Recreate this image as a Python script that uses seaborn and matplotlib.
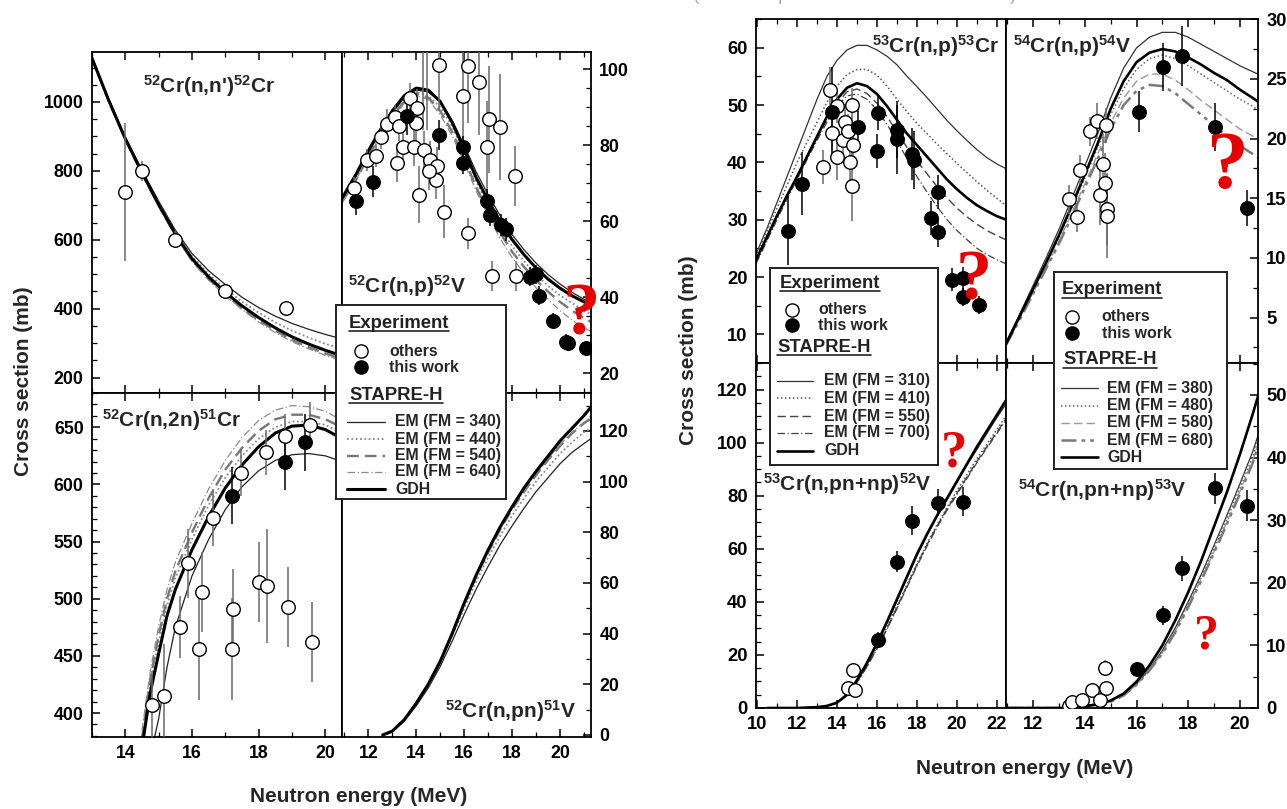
import matplotlib
matplotlib.use("Agg")
import matplotlib.pyplot as plt
import seaborn as sns
from matplotlib.ticker import MultipleLocator

# ------------------------------------------------------------------ data
# ---- left figure: 52Cr ----
nn_x = [13, 13.5, 14, 14.5, 15, 15.5, 16, 16.5, 17, 17.5, 18, 18.5, 19, 19.5, 20, 20.5]
nn_gdh = [1127, 1005, 893, 795, 702, 617, 545, 492, 447, 408, 374, 344, 318, 297, 279, 263]
nn_em1 = [1127, 1008, 898, 802, 712, 628, 560, 510, 470, 433, 403, 378, 357, 340, 325, 312]
nn_em2 = [1127, 1006, 895, 798, 706, 622, 552, 500, 458, 420, 388, 360, 336, 316, 298, 283]
nn_em3 = [1127, 1004, 891, 792, 699, 613, 540, 486, 441, 401, 366, 336, 309, 288, 270, 254]
nn_em4 = [1127, 1003, 890, 790, 697, 610, 537, 483, 437, 397, 361, 330, 304, 283, 264, 249]
nn_oth_x = [14.0, 14.49, 15.5, 17.0, 18.82]
nn_oth_y = [739, 800, 600, 450, 401]
nn_oth_e = [200, 30, 25, 22, 22]

np52_x = [10.9, 11.5, 12, 12.5, 13, 13.5, 14, 14.5, 15, 15.5, 16, 16.5, 17, 17.5, 18, 18.5,
          19, 19.5, 20, 20.5, 21, 21.3]
np52_gdh = [66, 72.5, 78.5, 84, 89, 93, 95, 94.5, 91.5, 86, 79, 71.5, 65.5, 60, 55.2, 51.2,
            47.7, 44.8, 42.4, 40.4, 38.8, 38]
np52_em1 = [66, 72, 78, 83.5, 88.5, 92.5, 94.5, 94, 91.5, 86.5, 80, 73, 67, 61.5, 56.5, 52.5,
            49, 46, 43.5, 41.3, 39.5, 38.5]
np52_em2 = [65.5, 71.5, 77.5, 83, 88, 92, 94, 93, 90, 85, 78, 70.5, 64, 58.5, 53.5, 49.5,
            46, 43, 40.5, 38.5, 36.5, 35.5]
np52_em3 = [65, 71, 77, 82.5, 87.5, 91.5, 93.5, 92.5, 89, 83.5, 76.5, 69, 62.5, 57, 52, 48,
            44.5, 41.5, 38.8, 36.5, 34.5, 33.5]
np52_em4 = [65, 71, 77, 82, 87, 91, 93, 92, 88, 82.5, 75.5, 68, 61.5, 55.5, 50.5, 46.3,
            42.5, 39.5, 36.5, 34, 32, 31]
np52_oth_x = [11.39, 11.94, 12.33, 12.54, 12.78, 13.10, 13.29, 13.20, 13.43, 13.75, 14.03, 13.99,
              13.89, 14.31, 14.13, 14.59, 14.87, 14.83, 14.52, 15.14, 14.94, 16.16, 15.94, 16.63,
              17.02, 17.51, 16.95, 16.16, 18.11, 17.15, 18.16, 14.30, 14.45]
np52_oth_y = [68.7, 76.1, 77.2, 82.1, 85.6, 87.5, 85.1, 75.3, 79.5, 92.4, 89.7, 85.8,
              79.6, 78.8, 66.9, 76.1, 74.4, 70.9, 73.1, 62.5, 101.1, 100.9, 92.8, 96.7,
              86.8, 84.7, 79.5, 56.8, 71.9, 45.6, 45.6, 112, 110]
np52_oth_e = [3, 3, 3, 3, 4, 3, 4, 5, 4, 4, 5, 6, 5, 5, 7.5, 5, 5, 5, 5, 7, 12, 15, 12, 14,
              14, 14, 12, 4, 8, 4, 4, 28, 26]
np52_wrk_x = [11.48, 12.18, 13.6, 14.95, 15.97, 15.94, 16.97, 17.08, 17.56, 17.77, 18.77, 19.02,
              19.13, 19.72, 20.27, 20.35, 21.09]
np52_wrk_y = [65.2, 70.4, 87.7, 82.7, 79.5, 75.3, 65.4, 61.7, 59.0, 57.9, 45.4, 46.1, 40.4,
              33.8, 28.3, 28.0, 26.6]
np52_wrk_e = [3.5, 4, 5, 4, 3, 3, 3, 3, 3, 3, 2.5, 2.5, 2.5, 2, 2, 2, 2]

n2n_x = [14.5, 14.75, 15, 15.25, 15.5, 16, 16.5, 17, 17.5, 18, 18.5, 19, 19.5, 20, 20.5]
n2n_gdh = [370, 418, 452, 485, 508, 543, 572, 597, 617, 633, 645, 651, 652, 648, 640]
n2n_em1 = [330, 362, 395, 440, 475, 520, 552, 578, 598, 612, 621, 626, 627, 625, 620]
n2n_em2 = [372, 425, 462, 494, 518, 552, 582, 606, 625, 640, 650, 655, 655, 652, 645]
n2n_em3 = [378, 430, 468, 500, 524, 558, 588, 613, 632, 647, 657, 661, 661, 657, 650]
n2n_em4 = [385, 437, 476, 508, 532, 566, 596, 621, 641, 656, 665, 669, 668, 664, 656]
n2n_oth_x = [14.79, 15.17, 15.64, 15.89, 16.22, 16.31, 16.64, 17.21, 17.24, 17.46, 18.01, 18.21,
             18.24, 18.79, 18.88, 19.54, 19.59]
n2n_oth_y = [407, 415, 475, 531, 456, 506, 571, 456, 491, 610, 515, 628, 511, 642, 493, 652, 462]
n2n_oth_e = [30, 45, 27, 30, 45, 35, 25, 45, 35, 20, 35, 20, 50, 20, 35, 20, 35]
n2n_wrk_x = [17.21, 18.79, 19.39]
n2n_wrk_y = [590, 620, 637]
n2n_wrk_e = [25, 25, 25]

pn51_x = [12.6, 13, 13.5, 14, 14.5, 15, 15.5, 16, 16.5, 17, 17.5, 18, 18.5, 19, 19.5, 20,
          20.5, 21, 21.3]
pn51_gdh = [0, 1.5, 6, 12.5, 20, 29, 40, 52, 63, 73, 82, 90, 97.5, 104, 110, 116, 121, 126, 129.5]
pn51_em1 = [0, 1.3, 5.5, 11.5, 18.5, 27, 37, 47.5, 57.5, 66.5, 75, 82.5, 89.5, 96, 101.5, 107,
            111.5, 115, 117]
pn51_em2 = [0, 1.4, 5.8, 12, 19.5, 28.5, 39, 50, 60.5, 70, 78.5, 86.5, 93.5, 100, 105.5, 111,
            115.5, 119.5, 121]
pn51_em3 = [0, 1.5, 6, 12.5, 20, 29, 40, 51.5, 62.5, 72, 81, 89, 96, 102.5, 108.5, 114, 119,
            123, 125]
pn51_em4 = [0, 1.5, 6, 12.5, 20, 29, 40, 51.5, 62.5, 72.5, 81.5, 89.5, 96.5, 103, 109, 114.5,
            119.5, 123.5, 126]

# ---- right figure: 53Cr / 54Cr ----
np53_x = [9.95, 10.5, 11, 11.5, 12, 12.5, 13, 13.5, 14, 14.5, 15, 15.5, 16, 16.5, 17, 17.5,
          18, 18.5, 19, 19.5, 20, 20.5, 21, 21.5, 22, 22.45]
np53_gdh = [23, 27, 30.7, 34.2, 37.5, 41, 44.5, 48, 51, 53, 53.8, 53.3, 51.9, 49.8, 47.4, 45,
            43, 41, 39, 37, 35.3, 33.8, 32.5, 31.5, 30.6, 30]
np53_em1 = [24, 28.5, 33, 37.5, 42, 46.5, 51, 55, 57.8, 59.6, 60.4, 60.4, 59.6, 58.5, 57, 55,
            53.2, 51.3, 49.3, 47.3, 45.5, 43.8, 42.2, 40.8, 39.7, 38.9]
np53_em2 = [23.5, 28, 32, 36, 40, 43.5, 47, 50.5, 53.3, 55.3, 56.2, 56.2, 55.2, 53.3, 51, 48.8,
            46.8, 45, 43.2, 41.5, 39.8, 38.2, 36.6, 35.1, 33.7, 32.5]
np53_em3 = [22.5, 26.5, 30.3, 34, 37.3, 40.8, 44.2, 47.5, 50.3, 52.3, 52.8, 52, 50.3, 48, 45.3,
            42.6, 40.2, 38, 35.8, 33.8, 32, 30.5, 29.2, 28.1, 27.2, 26.5]
np53_em4 = [22.3, 26.3, 30, 33.6, 37, 40.5, 43.8, 47, 49.8, 51.6, 51.9, 51, 49.1, 46.6, 43.8,
            40.6, 37.5, 34.8, 32.3, 30, 28.1, 26.5, 25, 23.9, 23, 22.3]
np53_oth_x = [13.32, 13.65, 13.73, 13.98, 13.98, 14.32, 14.40, 14.57, 14.65, 14.73, 14.73, 14.82]
np53_oth_y = [39.2, 52.7, 45.1, 49.8, 41.0, 43.9, 47.1, 45.4, 40.1, 50.0, 35.8, 43.0]
np53_oth_e = [3, 4, 3, 3, 4, 3, 3, 3, 4, 3, 6, 3]
np53_wrk_x = [11.57, 12.23, 13.73, 15.07, 16.03, 16.00, 17.00, 17.00, 17.77, 17.83, 19.03,
              18.68, 19.03, 19.73, 20.28, 20.28, 21.12]
np53_wrk_y = [28.1, 36.3, 48.7, 46.2, 48.6, 42.0, 45.7, 44.0, 41.5, 40.4, 34.8, 30.3, 27.8,
              19.5, 19.8, 16.5, 15.1]
np53_wrk_e = [6, 5.5, 8, 4, 3, 3, 5, 6, 4.5, 5, 3, 3, 2.5, 2, 2, 1.5, 1.5]

np54_x = [10.95, 11.5, 12, 12.5, 13, 13.5, 14, 14.5, 15, 15.5, 16, 16.5, 17, 17.5, 18, 18.5,
          19, 19.5, 20, 20.5, 20.7]
np54_gdh = [2.8, 5.2, 7.4, 9.6, 11.9, 14.4, 17.0, 19.6, 22.5, 24.8, 26.4, 27.2, 27.5, 27.3,
            26.8, 26.2, 25.5, 24.9, 24.1, 23.4, 23.1]
np54_em1 = [2.9, 5.4, 7.7, 10.0, 12.4, 15.0, 17.7, 20.4, 23.4, 25.9, 27.6, 28.5, 28.9, 28.9,
            28.5, 27.9, 27.3, 26.7, 26.1, 25.6, 25.4]
np54_em2 = [2.8, 5.1, 7.3, 9.5, 11.7, 14.2, 16.7, 19.3, 22.0, 24.2, 25.8, 26.7, 27.0, 26.7,
            26.1, 25.4, 24.7, 24.0, 23.3, 22.7, 22.4]
np54_em3 = [2.7, 5.0, 7.1, 9.2, 11.4, 13.8, 16.2, 18.7, 21.3, 23.4, 24.8, 25.4, 25.4, 24.9,
            24.1, 23.2, 22.4, 21.6, 20.8, 20.2, 19.9]
np54_em4 = [2.7, 4.9, 7.0, 9.1, 11.2, 13.5, 15.9, 18.3, 20.8, 22.8, 24.0, 24.5, 24.4, 23.8,
            22.9, 22.0, 21.1, 20.2, 19.4, 18.7, 18.4]
np54_oth_x = [13.37, 13.69, 13.82, 14.21, 14.49, 14.57, 14.72, 14.79, 14.83, 14.86, 14.86]
np54_oth_y = [14.9, 13.4, 17.4, 20.6, 21.5, 15.3, 17.9, 16.3, 21.1, 14.1, 13.5]
np54_oth_e = [1.2, 1.2, 1.2, 1.2, 1.5, 2.5, 2.5, 2.5, 1.5, 3, 3.5]
np54_wrk_x = [16.08, 17.01, 17.76, 19.05, 20.28]
np54_wrk_y = [22.25, 26.0, 26.9, 21.0, 14.2]
np54_wrk_e = [1.7, 2.0, 2.5, 2.0, 1.5]

pn52_x = [10.5, 11, 12, 13, 13.5, 14, 14.5, 15, 15.5, 16, 16.5, 17, 17.5, 18, 18.5, 19, 19.5,
          20, 20.5, 21, 21.5, 22, 22.45]
pn52_gdh = [0, 0, 0, 0.3, 0.8, 2, 5, 10.5, 17, 24.5, 32.5, 41, 49.5, 58, 65.5, 72.5, 79, 85.5,
            92, 98.5, 104.5, 110.5, 116]
pn52_em1 = [0, 0, 0, 0.3, 0.8, 2, 5, 10.3, 16.5, 24, 32, 40.5, 49, 57.5, 65, 72, 78.5, 85,
            91.5, 97.5, 103.5, 109.5, 114.5]
pn52_em2 = [0, 0, 0, 0.3, 0.8, 1.9, 4.8, 10, 16, 23, 30.5, 38.5, 46.5, 54.5, 62, 69, 75.5, 82,
            88, 94, 99.5, 105, 110]
pn52_em3 = [0, 0, 0, 0.3, 0.8, 1.9, 4.7, 9.8, 15.7, 22.5, 30, 38, 46, 54, 61.5, 68.5, 75, 81,
            87, 93, 98.5, 104, 109]
pn52_em4 = [0, 0, 0, 0.3, 0.8, 1.9, 4.7, 9.7, 15.5, 22.3, 29.7, 37.5, 45.5, 53.5, 61, 68, 74.5,
            80.5, 86.5, 92.5, 98, 103.5, 108.5]
pn52_oth_x = [14.57, 14.82, 14.90]
pn52_oth_y = [7.7, 14.2, 6.7]
pn52_oth_e = [1.5, 1.5, 1.5]
pn52_wrk_x = [16.03, 17.02, 17.77, 19.03, 20.28]
pn52_wrk_y = [25.8, 55.1, 70.6, 77.4, 77.7]
pn52_wrk_e = [3, 4, 5.5, 5, 5.5]

pn53_x = [11, 12, 13, 13.5, 14, 14.5, 15, 15.5, 16, 16.5, 17, 17.5, 18, 18.5, 19, 19.5, 20,
          20.5, 20.7]
pn53_gdh = [0, 0, 0, 0.1, 0.3, 0.6, 1.2, 2.3, 4.2, 6.8, 10, 14, 18.5, 23.5, 29, 34.5, 40.5,
            47, 49.8]
pn53_em1 = [0, 0, 0, 0.1, 0.3, 0.6, 1.1, 2.1, 3.8, 6.2, 9.2, 12.8, 17, 21.3, 26, 30.8, 35.8,
            41, 43.5]
pn53_em2 = [0, 0, 0, 0.1, 0.3, 0.6, 1.1, 2.1, 3.8, 6.1, 9.0, 12.5, 16.6, 20.8, 25.4, 30.2,
            35.1, 40.2, 42.8]
pn53_em3 = [0, 0, 0, 0.1, 0.3, 0.5, 1.0, 2.0, 3.7, 6.0, 8.8, 12.3, 16.3, 20.5, 25, 29.7, 34.6,
            39.6, 42.2]
pn53_em4 = [0, 0, 0, 0.1, 0.3, 0.5, 1.0, 2.0, 3.7, 6.0, 8.7, 12.1, 16.1, 20.3, 24.8, 29.4,
            34.2, 39.2, 41.8]
pn53_oth_x = [13.37, 13.50, 13.89, 14.27, 14.60, 14.83, 14.79]
pn53_oth_y = [0.3, 1.0, 1.3, 2.9, 1.3, 3.2, 6.4]
pn53_oth_e = [0.4, 0.4, 0.5, 0.6, 0.6, 0.8, 1.3]
pn53_wrk_x = [16.02, 17.01, 17.76, 19.05, 20.28]
pn53_wrk_y = [6.3, 14.8, 22.3, 35.1, 32.3]
pn53_wrk_e = [1.0, 1.5, 2.0, 2.5, 2.5]

# legend texts
fm_left = ["EM (FM = 340)", "EM (FM = 440)", "EM (FM = 540)", "EM (FM = 640)", "GDH"]
fm_r1 = ["EM (FM = 310)", "EM (FM = 410)", "EM (FM = 550)", "EM (FM = 700)", "GDH"]
fm_r2 = ["EM (FM = 380)", "EM (FM = 480)", "EM (FM = 580)", "EM (FM = 680)", "GDH"]

# ------------------------------------------------------------------ style
sns.set_theme(style="ticks")
plt.rcParams["font.family"] = ["Liberation Sans", "DejaVu Sans"]
plt.rcParams["font.weight"] = "bold"
plt.rcParams["mathtext.fontset"] = "custom"
plt.rcParams["mathtext.rm"] = "Liberation Sans:bold"
plt.rcParams["mathtext.bf"] = "Liberation Sans:bold"
plt.rcParams["mathtext.it"] = "Liberation Sans:bold"
plt.rcParams["mathtext.default"] = "bf"
plt.rcParams["axes.linewidth"] = 1.3

W, H = 1287, 809
fig = plt.figure(figsize=(W / 100, H / 100), dpi=100)
fig.patch.set_facecolor("white")


def rect(x0, y0, x1, y1):
    return [x0 / W, 1 - y1 / H, (x1 - x0) / W, (y1 - y0) / H]


def ftext(x, y, s, **kw):
    return fig.text(x / W, 1 - y / H, s, **kw)


ST_L = [dict(color="#222222", lw=0.9, ls="-"),
        dict(color="#8a8a8a", lw=1.3, ls=(0, (1, 1.4))),
        dict(color="#777777", lw=1.7, ls=(0, (5, 2.5))),
        dict(color="#8a8a8a", lw=0.9, ls=(0, (6, 2, 1, 2))),
        dict(color="black", lw=2.2, ls="-")]
ST_R1 = [dict(color="#333333", lw=0.9, ls="-"),
         dict(color="#555555", lw=1.1, ls=(0, (1, 1.6))),
         dict(color="#444444", lw=1.0, ls=(0, (6, 3))),
         dict(color="#444444", lw=0.9, ls=(0, (6, 2, 1, 2))),
         dict(color="black", lw=1.9, ls="-")]
ST_R2 = [dict(color="#333333", lw=0.9, ls="-"),
         dict(color="#666666", lw=1.1, ls=(0, (1, 1.6))),
         dict(color="#9a9a9a", lw=1.0, ls=(0, (6, 3))),
         dict(color="#7a7a7a", lw=1.8, ls=(0, (6, 2, 1.5, 2, 1.5, 2))),
         dict(color="black", lw=1.9, ls="-")]


def curves(ax, x, ys, styles):
    for y, st in zip(ys, styles):
        sns.lineplot(x=x, y=y, ax=ax, color=st["color"], linewidth=st["lw"],
                     linestyle=st["ls"], estimator=None, sort=False, zorder=2)


def points(ax, x, y, e, filled):
    ecol = "black" if filled else "#6a6a6a"
    ax.errorbar(x, y, yerr=e, fmt="none", ecolor=ecol, elinewidth=1.1, zorder=3)
    sns.scatterplot(x=x, y=y, ax=ax, s=95, color="black" if filled else "white",
                    edgecolor="black", linewidth=1.0, zorder=4, legend=False)


def setup(ax, xlim, ylim, xmaj, xmin, ymaj, ymin, side, xlabels, fs):
    ax.set_xlim(*xlim)
    ax.set_ylim(*ylim)
    ax.xaxis.set_major_locator(MultipleLocator(xmaj))
    ax.xaxis.set_minor_locator(MultipleLocator(xmin))
    ax.yaxis.set_major_locator(MultipleLocator(ymaj))
    ax.yaxis.set_minor_locator(MultipleLocator(ymin))
    ax.tick_params(which="both", direction="in", top=True, bottom=True,
                   left=(side == "left"), right=(side == "right"),
                   labelleft=(side == "left"), labelright=(side == "right"),
                   labelbottom=xlabels, labeltop=False, labelsize=fs, pad=6,
                   colors="black")
    ax.tick_params(which="major", length=6, width=1.1)
    ax.tick_params(which="minor", length=3.5, width=0.9)
    for lab in ax.get_xticklabels() + ax.get_yticklabels():
        lab.set_fontweight("bold")
    ax.set_xlabel("")
    ax.set_ylabel("")
    for sp in ax.spines.values():
        sp.set_color("black")
        sp.set_linewidth(1.3)


# ------------------------------------------------------------------ left figure
a = fig.add_axes(rect(92, 52, 342, 393))
curves(a, nn_x, [nn_em1, nn_em2, nn_em3, nn_em4, nn_gdh], ST_L)
points(a, nn_oth_x, nn_oth_y, nn_oth_e, False)
setup(a, (13, 20.5), (155, 1145), 2, 1, 200, 50, "left", False, 12.8)

a = fig.add_axes(rect(342, 52, 591, 393))
curves(a, np52_x, [np52_em1, np52_em2, np52_em3, np52_em4, np52_gdh], ST_L)
points(a, np52_oth_x, np52_oth_y, np52_oth_e, False)
points(a, np52_wrk_x, np52_wrk_y, np52_wrk_e, True)
setup(a, (10.9, 21.3), (14.8, 104.5), 2, 1, 20, 5, "right", False, 12.8)

a = fig.add_axes(rect(92, 393, 342, 737))
curves(a, n2n_x, [n2n_em1, n2n_em2, n2n_em3, n2n_em4, n2n_gdh], ST_L)
points(a, n2n_oth_x, n2n_oth_y, n2n_oth_e, False)
points(a, n2n_wrk_x, n2n_wrk_y, n2n_wrk_e, True)
setup(a, (13, 20.5), (379, 680), 2, 1, 50, 10, "left", True, 12.8)

a = fig.add_axes(rect(342, 393, 591, 737))
curves(a, pn51_x, [pn51_em1, pn51_em2, pn51_em3, pn51_em4, pn51_gdh], ST_L)
setup(a, (10.9, 21.3), (-0.8, 135), 2, 1, 20, 10, "right", True, 12.8)

# ------------------------------------------------------------------ right figure
a = fig.add_axes(rect(756, 19, 1006, 363))
curves(a, np53_x, [np53_em1, np53_em2, np53_em3, np53_em4, np53_gdh], ST_R1)
points(a, np53_oth_x, np53_oth_y, np53_oth_e, False)
points(a, np53_wrk_x, np53_wrk_y, np53_wrk_e, True)
setup(a, (9.95, 22.45), (5, 65), 2, 1, 10, 5, "left", False, 13.2)

a = fig.add_axes(rect(1006, 19, 1258, 363))
curves(a, np54_x, [np54_em1, np54_em2, np54_em3, np54_em4, np54_gdh], ST_R2)
points(a, np54_oth_x, np54_oth_y, np54_oth_e, False)
points(a, np54_wrk_x, np54_wrk_y, np54_wrk_e, True)
setup(a, (10.95, 20.7), (1.2, 30.02), 2, 1, 5, 2.5, "right", False, 13.2)

a = fig.add_axes(rect(756, 363, 1006, 708))
curves(a, pn52_x, [pn52_em1, pn52_em2, pn52_em3, pn52_em4, pn52_gdh], ST_R1)
points(a, pn52_oth_x, pn52_oth_y, pn52_oth_e, False)
points(a, pn52_wrk_x, pn52_wrk_y, pn52_wrk_e, True)
setup(a, (9.95, 22.45), (0, 130), 2, 1, 20, 5, "left", True, 13.2)

a = fig.add_axes(rect(1006, 363, 1258, 708))
curves(a, pn53_x, [pn53_em1, pn53_em2, pn53_em3, pn53_em4, pn53_gdh], ST_R2)
points(a, pn53_oth_x, pn53_oth_y, pn53_oth_e, False)
points(a, pn53_wrk_x, pn53_wrk_y, pn53_wrk_e, True)
setup(a, (10.95, 20.7), (0, 55.1), 2, 1, 10, 5, "right", True, 13.2)

# ------------------------------------------------------------------ panel labels
TF = 15
ftext(143, 92.7, r"$^{52}$Cr(n,n')$^{52}$Cr", fontsize=TF, va="baseline", weight="bold")
ftext(348, 293.3, r"$^{52}$Cr(n,p)$^{52}$V", fontsize=TF, va="baseline", weight="bold")
ftext(101.7, 426.7, r"$^{52}$Cr(n,2n)$^{51}$Cr", fontsize=TF, va="baseline", weight="bold")
ftext(445, 718.3, r"$^{52}$Cr(n,pn)$^{51}$V", fontsize=TF, va="baseline", weight="bold")
ftext(871.7, 53.3, r"$^{53}$Cr(n,p)$^{53}$Cr", fontsize=TF, va="baseline", weight="bold")
ftext(1013.3, 53.3, r"$^{54}$Cr(n,p)$^{54}$V", fontsize=TF, va="baseline", weight="bold")
ftext(763.3, 490.7, r"$^{53}$Cr(n,pn+np)$^{52}$V", fontsize=TF, va="baseline", weight="bold")
ftext(1018.3, 496.7, r"$^{54}$Cr(n,pn+np)$^{53}$V", fontsize=TF, va="baseline", weight="bold")

# axis titles
ftext(24, 381, "Cross section (mb)", rotation=90, ha="center", va="center", fontsize=15,
      weight="bold")
ftext(358.5, 797, "Neutron energy (MeV)", ha="center", va="center", fontsize=15, weight="bold")
ftext(688, 350, "Cross section (mb)", rotation=90, ha="center", va="center", fontsize=15,
      weight="bold")
ftext(1024.5, 769, "Neutron energy (MeV)", ha="center", va="center", fontsize=15, weight="bold")

# caption remnant at the very top (mostly outside the image, as in the reference)
ftext(855, -4, "(Taken in part from Ref. 63 of if 1998)", ha="center", va="center",
      fontsize=14, color="#ababab", weight="normal")

# ------------------------------------------------------------------ legends
underlines = []


def legend_box(box, exp_xy, oth_y, wrk_y, mk_x, txt_x, stapre_xy, rows, sx0, sx1, ltx,
               labels, styles):
    x0, y0, x1, y1 = box
    ax = fig.add_axes(rect(x0, y0, x1, y1))
    ax.set_zorder(20)
    ax.set_facecolor("white")
    ax.set_xlim(0, x1 - x0)
    ax.set_ylim(y1 - y0, 0)
    ax.set_xticks([])
    ax.set_yticks([])
    for sp in ax.spines.values():
        sp.set_color("#222222")
        sp.set_linewidth(1.4)
    t1 = ax.text(exp_xy[0], exp_xy[1], "Experiment", fontsize=13.3, va="center", ha="left",
                 weight="bold", color="#222222")
    ax.plot([mk_x], [oth_y], "o", ms=9.5, mfc="white", mec="black", mew=1.0)
    ax.plot([mk_x], [wrk_y], "o", ms=9.5, mfc="black", mec="black", mew=1.0)
    ax.text(txt_x, oth_y, "others", fontsize=11.4, va="center", weight="bold")
    ax.text(txt_x, wrk_y, "this work", fontsize=11.4, va="center", weight="bold")
    t2 = ax.text(stapre_xy[0], stapre_xy[1], "STAPRE-H", fontsize=13.3, va="center",
                 ha="left", weight="bold", color="#222222")
    for ry, lab, st in zip(rows, labels, styles):
        ax.plot([sx0, sx1], [ry, ry], color=st["color"], lw=st["lw"], ls=st["ls"])
        ax.text(ltx, ry, lab, fontsize=11.4, va="center", weight="bold")
    underlines.append((ax, t1))
    underlines.append((ax, t2))


legend_box((336, 305, 506, 499), (13, 18), 46, 62, 24.7, 53, (13, 90),
           [116.7, 134.3, 150.7, 166.7, 184.3], 10.7, 49, 59, fm_left, ST_L)
legend_box((770, 268, 938, 465), (10, 15.5), 42, 57, 21.7, 48, (7, 79),
           [112.7, 130.3, 148, 164.7, 182.7], 6.7, 43.3, 54, fm_r1, ST_R1)
legend_box((1054, 272, 1227, 469), (7.7, 18), 44.7, 61.3, 17.7, 47.7, (9.3, 88),
           [116.3, 133.7, 150.7, 168, 185.3], 7, 44, 53.3, fm_r2, ST_R2)

fig.canvas.draw()
renderer = fig.canvas.get_renderer()
for ax, t in underlines:
    bb = t.get_window_extent(renderer=renderer)
    inv = ax.transData.inverted()
    (xa, ya), (xb, yb) = inv.transform([[bb.x0, bb.y0], [bb.x1, bb.y0]])
    ax.plot([xa, xb], [ya - 1.0, yb - 1.0], color="#222222", lw=1.2)

# ------------------------------------------------------------------ red question marks
for (qx, qy, qs) in [(580.7, 334, 54), (974, 300, 52), (1228.3, 188.3, 60),
                     (954, 466.7, 38), (1206, 648.3, 36)]:
    ftext(qx, qy, "?", ha="center", va="baseline", fontsize=qs, color="#e60000",
          family="Liberation Serif", weight="bold", zorder=30)

fig.savefig("out.png", dpi=100, facecolor="white")
